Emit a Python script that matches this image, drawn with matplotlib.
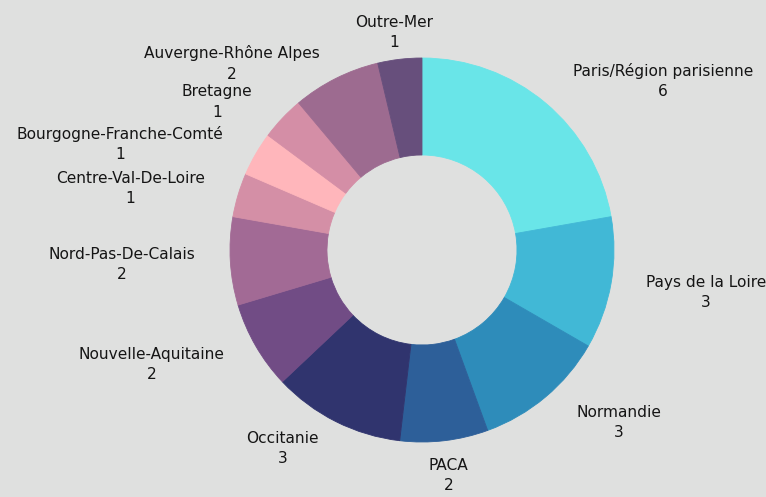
import numpy as np
import matplotlib
matplotlib.use("Agg")
import matplotlib.pyplot as plt

# data
regions = ["Paris/Région parisienne", "Pays de la Loire", "Normandie", "PACA",
           "Occitanie", "Nouvelle-Aquitaine", "Nord-Pas-De-Calais",
           "Centre-Val-De-Loire", "Bourgogne-Franche-Comté", "Bretagne",
           "Auvergne-Rhône Alpes", "Outre-Mer"]
counts = [6, 3, 3, 2, 3, 2, 2, 1, 1, 1, 2, 1]
colors = ["#69e5e8", "#41b8d6", "#2e8cba", "#2d5f99", "#30346e", "#714c85",
          "#a26a95", "#d48fa6", "#ffb6bb", "#d48ea6", "#9d6b90", "#674f7c"]

# small angle nudges (deg) so the outer labels don't collide
label_shift = [-5, 0, 5, 0, -6, -2, 0, 2, 4, 5, 10, 0]

W, H = 766, 497
bg = "#dfe0df"
fig = plt.figure(figsize=(W / 100, H / 100), dpi=100, facecolor=bg)
ax = fig.add_axes([0, 0, 1, 1])
ax.set_facecolor(bg)

cx, cy = 422, H - 250
R = 192
wedges, _ = ax.pie(counts, colors=colors, startangle=90, counterclock=False,
                   radius=R, center=(cx, cy), frame=True,
                   wedgeprops=dict(width=97, linewidth=0.6))
for w, c in zip(wedges, colors):
    w.set_edgecolor(c)
ax.set_xlim(0, W)
ax.set_ylim(0, H)
ax.set_aspect("equal")
ax.axis("off")

renderer = fig.canvas.get_renderer()
for w, name, val, sh in zip(wedges, regions, counts, label_shift):
    mid = np.deg2rad((w.theta1 + w.theta2) / 2 + sh)
    vx, vy = np.cos(mid), np.sin(mid)
    r_anchor = 205 + 22 * vx ** 2 - 4 * vy
    ax_, ay_ = cx + r_anchor * vx, cy + r_anchor * vy
    t = ax.text(ax_, ay_, f"{name}\n{val}", ha="center", va="center",
                multialignment="center", fontsize=11.1, color="#151515",
                linespacing=1.45, family="DejaVu Sans")
    bb = t.get_window_extent(renderer)
    tw, th = bb.width, bb.height
    vs = 1 / max(abs(vx), abs(vy))
    t.set_position((ax_ + vx * vs * tw / 2, ay_ + vy * vs * th / 2))

fig.savefig("out.png", dpi=100, facecolor=bg)
